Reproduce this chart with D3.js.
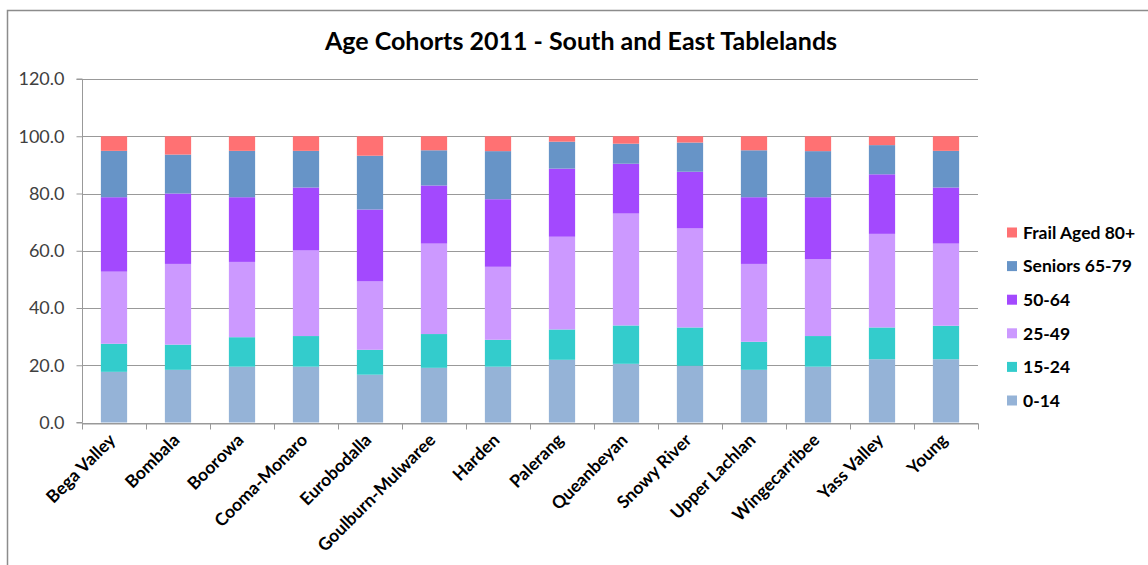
<!DOCTYPE html>
<html>
<head>
<meta charset="utf-8">
<script src="https://cdn.jsdelivr.net/npm/d3@7"></script>
<style>
	body { margin: 0; background: #fff; }
	svg { display: block; }
</style>
</head>
<body>
<svg></svg>
<script>
const categories = ['Bega Valley', 'Bombala', 'Boorowa', 'Cooma-Monaro', 'Eurobodalla', 'Goulburn-Mulwaree',
	'Harden', 'Palerang', 'Queanbeyan', 'Snowy River', 'Upper Lachlan', 'Wingecarribee', 'Yass Valley', 'Young']

const age0to14 = [17.7, 18.4, 19.5, 19.5, 16.7, 19.1, 19.5, 21.9, 20.5, 19.8, 18.4, 19.5, 22.1, 22.1]
const age15to24 = [9.8, 8.8, 10.3, 10.7, 8.7, 11.8, 9.4, 10.6, 13.4, 13.4, 9.8, 10.7, 11.1, 11.7]
const age25to49 = [25.2, 28.2, 26.3, 29.9, 23.9, 31.6, 25.5, 32.4, 39.1, 34.6, 27.2, 26.9, 32.7, 28.7]
const age50to64 = [26.0, 24.6, 22.6, 22.0, 25.1, 20.3, 23.6, 23.8, 17.4, 19.8, 23.3, 21.6, 20.8, 19.6]
const seniors = [16.2, 13.6, 16.2, 12.8, 18.8, 12.3, 16.8, 9.4, 7.0, 10.2, 16.4, 16.1, 10.2, 12.8]
const frail = [5.1, 6.4, 5.1, 5.1, 6.8, 4.9, 5.2, 1.9, 2.6, 2.2, 4.9, 5.2, 3.1, 5.1]

const seriesNames = ['0-14', '15-24', '25-49', '50-64', 'Seniors 65-79', 'Frail Aged 80+']
const seriesValues = [age0to14, age15to24, age25to49, age50to64, seniors, frail]
const colors = ['#95b3d7', '#33cccc', '#cc99ff', '#a349fe', '#6794c7', '#ff7173']
const yTicks = [0, 20, 40, 60, 80, 100, 120]

const width = 1148,
	height = 565,
	plotLeft = 82,
	plotRight = 978,
	plotTop = 79,
	plotBottom = 422.5,
	font = 'Lato, "Open Sans", sans-serif'

const rows = categories.map((c, i) => {
	const row = { name: c }
	seriesNames.forEach((s, j) => { row[s] = seriesValues[j][i] })
	return row
})
const stacked = d3.stack().keys(seriesNames)(rows)

const svg = d3.select('svg')
	.attr('width', width)
	.attr('height', height)

// outer chart frame
svg.append('rect')
	.attr('x', 7.5)
	.attr('y', 10.5)
	.attr('width', 1300)
	.attr('height', 700)
	.attr('fill', '#fff')
	.attr('stroke', '#8c8c8c')
	.attr('stroke-width', 1.5)

const x = d3.scaleBand()
	.domain(categories)
	.range([plotLeft, plotRight])
	.paddingInner(0.59)
	.paddingOuter(0.295)

const y = d3.scaleLinear()
	.domain([0, 120])
	.range([plotBottom, plotTop])

// gridlines
svg.append('g')
	.selectAll('line')
	.data(yTicks)
	.enter()
	.append('line')
	.attr('x1', plotLeft)
	.attr('x2', plotRight)
	.attr('y1', d => Math.round(y(d)) + 0.5)
	.attr('y2', d => Math.round(y(d)) + 0.5)
	.attr('stroke', '#999')

// bars
const layer = svg.append('g')
	.selectAll('g')
	.data(stacked)
	.enter()
	.append('g')
	.attr('fill', (d, i) => colors[i])

layer.selectAll('rect')
	.data(d => d)
	.enter()
	.append('rect')
	.attr('x', d => x(d.data.name))
	.attr('width', x.bandwidth())
	.attr('y', d => y(d[1]))
	.attr('height', d => y(d[0]) - y(d[1]))

// y axis
const yAxis = svg.append('g')
	.attr('transform', 'translate(' + (plotLeft + 0.5) + ',0)')
	.call(d3.axisLeft(y).tickValues(yTicks).tickFormat(d3.format('.1f')).tickSize(6).tickPadding(12))
yAxis.select('.domain').attr('stroke', '#999').attr('d', 'M-6,' + y(120) + 'H0V' + y(0) + 'H-6')
yAxis.selectAll('.tick line').attr('stroke', '#999')
yAxis.selectAll('.tick text')
	.attr('fill', '#404040')
	.style('font-family', font)
	.style('font-size', '18px')

// x axis
const xAxis = svg.append('g')
	.attr('transform', 'translate(0,' + (Math.round(plotBottom) + 0.5) + ')')
	.call(d3.axisBottom(x).tickSize(0).tickFormat(''))
xAxis.select('.domain').attr('stroke', '#999')

const step = x.step()
svg.append('g')
	.selectAll('line')
	.data(d3.range(categories.length + 1))
	.enter()
	.append('line')
	.attr('x1', i => Math.round(plotLeft + i * step) + 0.5)
	.attr('x2', i => Math.round(plotLeft + i * step) + 0.5)
	.attr('y1', Math.round(plotBottom) + 0.5)
	.attr('y2', Math.round(plotBottom) + 6.5)
	.attr('stroke', '#999')

svg.append('g')
	.selectAll('text')
	.data(categories)
	.enter()
	.append('text')
	.attr('transform', d => 'translate(' + (x(d) + x.bandwidth() / 2 - 6) + ',' + (plotBottom + 10) + ') rotate(-45)')
	.attr('text-anchor', 'end')
	.attr('dy', '0.7em')
	.attr('fill', '#000')
	.style('font-family', font)
	.style('font-weight', 'bold')
	.style('font-size', '17.5px')
	.text(d => d)

// title
svg.append('text')
	.attr('x', 581)
	.attr('y', 50)
	.attr('text-anchor', 'middle')
	.style('font-family', font)
	.style('font-weight', 'bold')
	.style('font-size', '25px')
	.text('Age Cohorts 2011 - South and East Tablelands')

// legend, top entry is the last series
const legend = svg.append('g')
	.selectAll('g')
	.data(seriesNames.slice().reverse())
	.enter()
	.append('g')
	.attr('transform', (d, i) => 'translate(1007,' + (232.5 + i * 33.6) + ')')

legend.append('rect')
	.attr('x', 0)
	.attr('y', -5)
	.attr('width', 10)
	.attr('height', 10)
	.attr('fill', (d, i) => colors[seriesNames.length - 1 - i])

legend.append('text')
	.attr('x', 16)
	.attr('dy', '0.36em')
	.style('font-family', font)
	.style('font-weight', 'bold')
	.style('font-size', '17.5px')
	.text(d => d)
</script>
</body>
</html>
